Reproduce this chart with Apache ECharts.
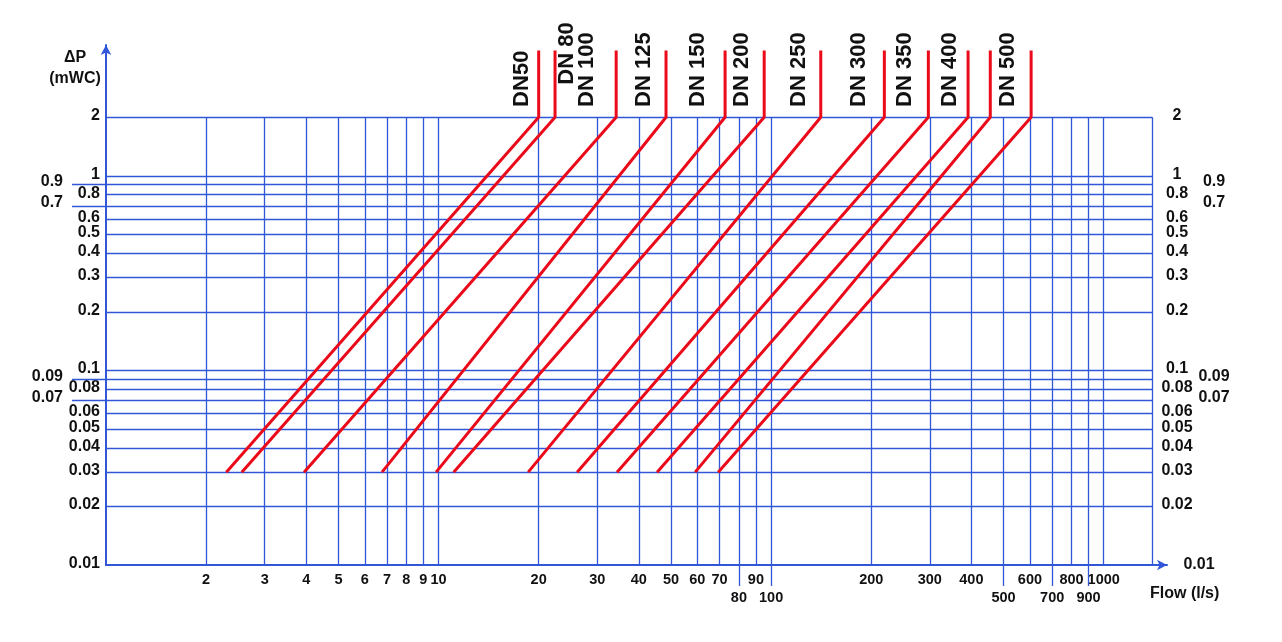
<!DOCTYPE html>
<html>
<head>
<meta charset="utf-8">
<title>Pressure loss - DN</title>
<script src="https://cdn.jsdelivr.net/npm/echarts@6/dist/echarts.min.js"></script>
<style>
    html, body { margin: 0; padding: 0; background: #fff; }
    #chart { width: 1282px; height: 642px; }
</style>
</head>
<body>
<div id="chart"></div>
<script>
// tick values (l/s and mWC)
const flowTicks = [2, 3, 4, 5, 6, 7, 8, 9, 10, 20, 30, 40, 50, 60, 70, 80, 90, 100, 200, 300, 400, 500, 600, 700, 800, 900, 1000]
const flowTicksLow = [80, 100, 500, 700, 900]
const dpTicks = [0.01, 0.02, 0.03, 0.04, 0.05, 0.06, 0.07, 0.08, 0.09, 0.1, 0.2, 0.3, 0.4, 0.5, 0.6, 0.7, 0.8, 0.9, 1, 2]
const dpTicksFar = [0.9, 0.7, 0.09, 0.07]

// DN names and where their labels sit
const dnNames = ['DN50', 'DN 80', 'DN 100', 'DN 125', 'DN 150', 'DN 200', 'DN 250', 'DN 300', 'DN 350', 'DN 400', 'DN 500']
const dnLabelFlow = [17.8, 24.4, 28, 41.5, 60.3, 81.8, 121, 184, 253, 345, 516]
const dnLabelDp = [2.26, 2.94, 2.26, 2.26, 2.26, 2.26, 2.26, 2.26, 2.26, 2.26, 2.26]

// red curves: flow at dp 0.03 and at dp 2, then straight up
const curveFlowLow = [2.3, 2.56, 3.94, 6.76, 9.83, 11.1, 18.6, 26.1, 34.4, 45.4, 59.1, 69.3]
const curveFlowHigh = [20, 22.4, 34.2, 48.3, 72.7, 95.3, 141, 219, 297, 391, 456, 605]
const curveDp = [0.03, 2, 4.4]

// grid frame
const frameFlow = 1400
const leaderFlow = 0.79
const tickEndDp = 0.0078
const gridTopDp = 2

const blue = '#3157d8'
const red = '#ea0a1a'
const ink = '#111111'
const font = '"Liberation Sans", Arial, sans-serif'

function fmt(v) {
    return String(+(+v).toPrecision(4))
}
function isIn(list, v) {
    return list.some(t => Math.abs(t - v) / t < 1e-6)
}

let chart = echarts.init(document.getElementById('chart'))

// blue grid lines
let gridLines = []
dpTicks.forEach(v => {
    if (v === 0.01) return
    gridLines.push({ coords: [[isIn(dpTicksFar, v) ? leaderFlow : 1, v], [frameFlow, v]] })
})
flowTicks.concat([frameFlow]).forEach(f => {
    gridLines.push({ coords: [[f, 0.01], [f, gridTopDp]] })
})
flowTicksLow.forEach(f => {
    gridLines.push({ coords: [[f, tickEndDp], [f, 0.01]] })
})

let curveSeries = curveFlowLow.map((f, i) => ({
    type: 'line',
    data: [[f, curveDp[0]], [curveFlowHigh[i], curveDp[1]], [curveFlowHigh[i], curveDp[2]]],
    symbol: 'none',
    showSymbol: false,
    lineStyle: { color: red, width: 3 },
    z: 5,
    silent: true
}))

let option = {
    animation: false,
    backgroundColor: '#fff',
    grid: { left: 106, right: 115, top: 45, bottom: 77, outerBoundsMode: 'none' },
    xAxis: {
        type: 'log',
        min: 1,
        max: 1550,
        name: 'Flow (l/s)',
        nameLocation: 'end',
        nameGap: -17,
        nameMoveOverlap: false,
        nameTextStyle: { color: ink, fontSize: 16, fontWeight: 'bold', fontFamily: font, align: 'left', verticalAlign: 'top', padding: [21, 0, 0, 0] },
        axisLine: { show: true, onZero: false, symbol: ['none', 'arrow'], symbolSize: [8, 10], lineStyle: { color: blue, width: 2 } },
        axisTick: { show: false },
        splitLine: { show: false },
        minorSplitLine: { show: false },
        axisLabel: {
            customValues: flowTicks,
            margin: 7,
            color: ink,
            fontSize: 14.5,
            fontWeight: 'bold',
            fontFamily: font,
            formatter: v => isIn(flowTicksLow, v) ? '{low|' + fmt(v) + '}' : fmt(v),
            rich: { low: { padding: [18, 0, 0, 0] } }
        }
    },
    yAxis: [{
        type: 'log',
        min: 0.01,
        max: 4.7,
        position: 'left',
        name: 'ΔP\n(mWC)',
        nameLocation: 'end',
        nameGap: -2,
        nameMoveOverlap: false,
        nameTextStyle: { color: ink, fontSize: 16, fontWeight: 'bold', fontFamily: font, align: 'center', verticalAlign: 'top', lineHeight: 21, padding: [0, 62, 0, 0] },
        axisLine: { show: true, onZero: false, symbol: ['none', 'arrow'], symbolSize: [8, 10], lineStyle: { color: blue, width: 2 } },
        axisTick: { show: false },
        splitLine: { show: false },
        axisLabel: {
            customValues: dpTicks,
            margin: 6,
            color: ink,
            fontSize: 16,
            fontWeight: 'bold',
            fontFamily: font,
            formatter: v => isIn(dpTicksFar, v) ? '{far|' + fmt(v) + '}' : '{n|' + fmt(v) + '}',
            rich: {
                n: { padding: [0, 0, 3, 0] },
                far: { padding: [0, 37, 6, 0] }
            }
        }
    }, {
        type: 'log',
        min: 0.01,
        max: 4.7,
        position: 'right',
        axisLine: { show: false },
        axisTick: { show: false },
        splitLine: { show: false },
        axisLabel: {
            customValues: dpTicks,
            margin: 10,
            align: 'center',
            color: ink,
            fontSize: 16,
            fontWeight: 'bold',
            fontFamily: font,
            formatter: function (v) {
                if (isIn([0.01], v)) return '{end|' + fmt(v) + '}'
                return isIn(dpTicksFar, v) ? '{far|' + fmt(v) + '}' : '{n|' + fmt(v) + '}'
            },
            rich: {
                n: { padding: [0, 0, 3, 0] },
                far: { padding: [0, 0, 6, 74] },
                end: { padding: [0, 0, 0, 44] }
            }
        }
    }],
    series: [{
        type: 'lines',
        coordinateSystem: 'cartesian2d',
        data: gridLines,
        clip: false,
        silent: true,
        z: 2,
        lineStyle: { color: blue, width: 1.3, opacity: 1 }
    }].concat(curveSeries).concat([{
        type: 'scatter',
        symbol: 'circle',
        symbolSize: 0,
        clip: false,
        silent: true,
        itemStyle: { color: ink, opacity: 1 },
        data: dnNames.map((n, i) => ({ name: n, value: [dnLabelFlow[i], dnLabelDp[i]] })),
        label: {
            show: true,
            position: [0, 0],
            formatter: '{b}',
            rotate: 90,
            align: 'left',
            verticalAlign: 'middle',
            color: ink,
            opacity: 1,
            textBorderWidth: 0,
            fontSize: 22,
            fontWeight: 'bold',
            fontFamily: font
        },
        z: 6
    }])
}

chart.setOption(option)
window.addEventListener('resize', function () {
    chart.resize()
})
</script>
</body>
</html>
